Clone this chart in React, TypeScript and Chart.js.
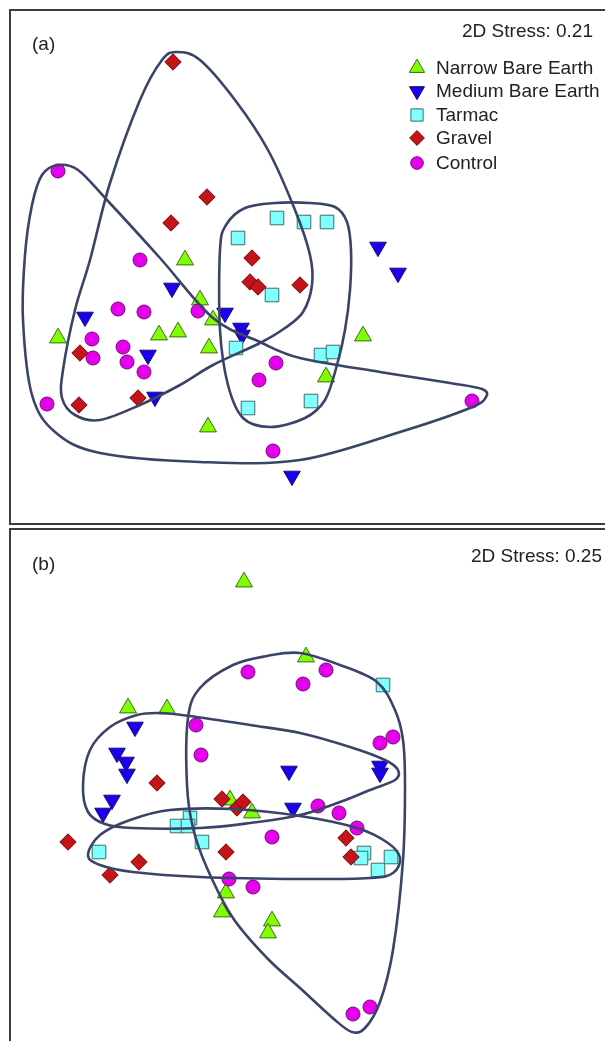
import React, { useEffect, useRef } from 'react';
import { Chart, registerables } from 'chart.js';
import { drawPoint } from 'chart.js/helpers';

Chart.register(...registerables);

// ---------- categories ----------
const groupNames = ['Narrow Bare Earth', 'Medium Bare Earth', 'Tarmac', 'Gravel', 'Control'];
const stressA = '2D Stress: 0.21';
const stressB = '2D Stress: 0.25';

// ---------- panel (a) NMDS scores [x, y] ----------
const narrowA = [[-1.15, 0.02], [-1.0, -0.38], [-0.87, -0.58], [-2.42, -0.76], [-1.41, -0.73], [-1.22, -0.7], [-0.91, -0.86], [-0.92, -1.65], [0.63, -0.74], [0.26, -1.15]];
const mediumA = [[0.78, 0.15], [0.98, -0.11], [-1.28, -0.26], [-0.75, -0.51], [-0.59, -0.66], [-0.58, -0.73], [-2.15, -0.55], [-1.52, -0.93], [-1.45, -1.35], [-0.08, -2.14]];
const tarmacA = [[-0.23, 0.44], [0.04, 0.4], [0.27, 0.4], [-0.62, 0.24], [-0.28, -0.33], [-0.64, -0.86], [-0.52, -1.46], [0.21, -0.93], [0.33, -0.9], [0.11, -1.39]];
const gravelA = [[-1.27, 2.0], [-0.93, 0.65], [-1.29, 0.39], [-0.48, 0.04], [-0.5, -0.2], [-0.42, -0.25], [0.0, -0.23], [-2.2, -0.91], [-2.21, -1.43], [-1.62, -1.36]];
const controlA = [[-2.42, 0.91], [-1.6, 0.02], [-1.02, -0.49], [-1.82, -0.47], [-1.56, -0.5], [-2.08, -0.77], [-2.07, -0.96], [-1.77, -0.85], [-1.73, -1.0], [-1.56, -1.1], [-0.24, -1.01], [-0.41, -1.18], [-2.53, -1.42], [-0.27, -1.89], [1.72, -1.39]];

// group outlines, panel (a)
const hullGravelA = [[-1.23, 2.1], [-1.0, 2.02], [-0.65, 1.62], [-0.32, 1.12], [-0.05, 0.52], [0.1, 0.07], [0.12, -0.23], [0.03, -0.5], [-0.15, -0.66], [-0.4, -0.81], [-0.87, -1.03], [-1.2, -1.23], [-1.6, -1.43], [-2.0, -1.58], [-2.25, -1.53], [-2.38, -1.36], [-2.37, -1.08], [-2.25, -0.48], [-2.1, 0.02], [-1.9, 0.79], [-1.6, 1.62], [-1.38, 2.02]];
const hullTarmacA = [[-0.8, 0.12], [-0.74, 0.37], [-0.55, 0.54], [-0.25, 0.59], [0.1, 0.59], [0.35, 0.55], [0.47, 0.4], [0.51, 0.12], [0.5, -0.28], [0.45, -0.68], [0.37, -1.03], [0.25, -1.38], [0.05, -1.56], [-0.3, -1.65], [-0.57, -1.56], [-0.72, -1.23], [-0.8, -0.68]];
const hullControlA = [[-2.42, 0.97], [-2.22, 0.92], [-1.93, 0.62], [-1.4, 0.04], [-0.87, -0.56], [-0.4, -0.8], [0.0, -0.96], [0.8, -1.1], [1.5, -1.21], [1.82, -1.27], [1.86, -1.35], [1.7, -1.46], [1.0, -1.7], [0.0, -1.98], [-1.0, -2.0], [-2.0, -1.91], [-2.45, -1.7], [-2.68, -1.33], [-2.77, -0.58], [-2.75, 0.07], [-2.68, 0.57], [-2.58, 0.87]];

// ---------- panel (b) NMDS scores [x, y] ----------
const narrowB = [[-0.56, 2.02], [-1.72, 0.76], [-1.33, 0.75], [0.06, 1.27], [-0.7, -0.16], [-0.48, -0.29], [-0.74, -1.09], [-0.78, -1.28], [-0.28, -1.37], [-0.32, -1.49]];
const mediumB = [[-1.65, 0.57], [-1.83, 0.31], [-1.74, 0.22], [-1.73, 0.1], [-0.11, 0.13], [0.8, 0.18], [0.8, 0.11], [-1.88, -0.16], [-1.97, -0.29], [-0.07, -0.24]];
const tarmacB = [[0.83, 0.99], [-1.23, -0.42], [-1.1, -0.34], [-1.12, -0.42], [-0.98, -0.58], [-2.01, -0.68], [0.64, -0.69], [0.61, -0.74], [0.91, -0.73], [0.78, -0.86]];
const gravelB = [[-1.43, 0.01], [-2.32, -0.58], [-1.61, -0.78], [-1.9, -0.91], [-0.78, -0.15], [-0.63, -0.24], [-0.57, -0.18], [-0.74, -0.68], [0.46, -0.54], [0.51, -0.73]];
const controlB = [[-0.52, 1.12], [0.03, 1.0], [0.26, 1.14], [-1.04, 0.59], [-0.99, 0.29], [0.8, 0.41], [0.93, 0.47], [-0.28, -0.53], [-0.71, -0.95], [-0.47, -1.03], [0.18, -0.22], [0.39, -0.29], [0.57, -0.44], [0.53, -2.3], [0.7, -2.23]];

// group outlines, panel (b)
const hullControlB = [[0.0, 1.31], [0.4, 1.19], [0.77, 1.02], [0.95, 0.74], [1.03, 0.44], [1.05, -0.01], [1.03, -0.76], [0.93, -1.66], [0.8, -2.18], [0.65, -2.44], [0.52, -2.48], [0.35, -2.36], [0.0, -2.04], [-0.33, -1.74], [-0.67, -1.34], [-0.93, -0.84], [-1.07, -0.44], [-1.13, -0.01], [-1.12, 0.66], [-1.0, 0.96], [-0.67, 1.19], [-0.33, 1.28]];
const hullMediumB = [[-1.9, 0.57], [-1.63, 0.69], [-1.4, 0.71], [-1.1, 0.68], [-0.5, 0.59], [0.0, 0.51], [0.5, 0.37], [0.85, 0.24], [0.98, 0.14], [0.95, 0.04], [0.7, -0.06], [0.4, -0.18], [0.0, -0.31], [-0.5, -0.39], [-1.0, -0.44], [-1.67, -0.44], [-1.95, -0.4], [-2.12, -0.28], [-2.17, -0.01], [-2.1, 0.34]];
const hullTarmacB = [[-2.12, -0.71], [-2.0, -0.51], [-1.7, -0.36], [-1.3, -0.26], [-0.67, -0.25], [0.0, -0.32], [0.57, -0.44], [0.88, -0.59], [1.0, -0.74], [0.93, -0.89], [0.7, -0.94], [0.0, -0.95], [-1.0, -0.93], [-1.67, -0.88], [-2.0, -0.81]];

// ---------- styles ----------
const FONT = '"Liberation Sans", Arial, sans-serif';
const HULL_COLOR = '#3a4468';
const groupStyles = [
  { pointStyle: 'triangle', radius: 9.8, rotation: 0, bg: '#80ff00', border: '#3d6b14' },
  { pointStyle: 'triangle', radius: 9.6, rotation: 180, bg: '#1a00ee', border: '#14106e' },
  { pointStyle: 'rect', radius: 9.6, rotation: 0, bg: '#80ffff', border: '#3f6c6c' },
  { pointStyle: 'rectRot', radius: 8.2, rotation: 0, bg: '#c4141a', border: '#6a0c0c' },
  { pointStyle: 'circle', radius: 7, rotation: 0, bg: '#e600ee', border: '#6c0a78' },
];

type Pt = { x: number; y: number };
const toPts = (a: number[][]): Pt[] => a.map(([x, y]) => ({ x, y }));

function closedSpline(ctx: CanvasRenderingContext2D, p: Pt[]) {
  const n = p.length;
  ctx.beginPath();
  ctx.moveTo(p[0].x, p[0].y);
  for (let i = 0; i < n; i++) {
    const p0 = p[(i - 1 + n) % n], p1 = p[i], p2 = p[(i + 1) % n], p3 = p[(i + 2) % n];
    ctx.bezierCurveTo(
      p1.x + (p2.x - p0.x) / 6, p1.y + (p2.y - p0.y) / 6,
      p2.x - (p3.x - p1.x) / 6, p2.y - (p3.y - p1.y) / 6,
      p2.x, p2.y
    );
  }
  ctx.closePath();
  ctx.stroke();
}

type PanelCfg = {
  label: string;
  stress: string;
  stressRight: number;
  stressY: number;
  labelY: number;
  groups: number[][][];
  hulls: number[][][];
  legend: boolean;
  yMin: number;
  yMax: number;
};

function makeDecor(cfg: PanelCfg) {
  return {
    id: 'panelDecor',
    afterDatasetsDraw(chart: any) {
      const { ctx } = chart;
      const xs = chart.scales.x, ys = chart.scales.y;
      ctx.save();
      ctx.strokeStyle = HULL_COLOR;
      ctx.lineWidth = 2.6;
      ctx.lineJoin = 'round';
      for (const h of cfg.hulls) {
        const px = h.map(([x, y]) => ({ x: xs.getPixelForValue(x), y: ys.getPixelForValue(y) }));
        closedSpline(ctx, px);
      }
      ctx.restore();
    },
    afterDraw(chart: any) {
      const { ctx } = chart;
      ctx.save();
      ctx.fillStyle = '#222';
      ctx.font = `19px ${FONT}`;
      ctx.textBaseline = 'middle';
      ctx.textAlign = 'left';
      ctx.fillText(cfg.label, 32, cfg.labelY);
      ctx.textAlign = 'right';
      ctx.fillText(cfg.stress, cfg.stressRight, cfg.stressY);
      if (cfg.legend) {
        const rows = [68, 91, 115, 138, 163];
        groupNames.forEach((name, i) => {
          const s = groupStyles[i];
          ctx.fillStyle = s.bg;
          ctx.strokeStyle = s.border;
          ctx.lineWidth = 1;
          drawPoint(ctx, { pointStyle: s.pointStyle as any, radius: s.radius * 0.9, rotation: s.rotation, borderWidth: 1 }, 417, rows[i]);
          ctx.fillStyle = '#222';
          ctx.textAlign = 'left';
          ctx.fillText(name, 436, rows[i] + 1);
        });
      }
      ctx.restore();
    },
  };
}

function Panel({ cfg, top, height }: { cfg: PanelCfg; top: number; height: number }) {
  const ref = useRef<HTMLCanvasElement | null>(null);
  useEffect(() => {
    if (!ref.current) return;
    const datasets = cfg.groups.map((g, i) => {
      const s = groupStyles[i];
      return {
        label: groupNames[i],
        data: toPts(g),
        pointStyle: s.pointStyle,
        pointRadius: s.radius,
        pointRotation: s.rotation,
        pointBackgroundColor: s.bg,
        pointBorderColor: s.border,
        pointBorderWidth: 1,
        showLine: false,
        order: 5 - i,
      };
    });
    const chart = new Chart(ref.current, {
      type: 'scatter',
      data: { datasets: datasets as any },
      options: {
        animation: false,
        responsive: false,
        events: [],
        layout: { padding: 0, autoPadding: false } as any,
        scales: {
          x: { type: 'linear', min: -3.0, max: 3.05, display: false },
          y: { type: 'linear', min: cfg.yMin, max: cfg.yMax, display: false },
        },
        plugins: { legend: { display: false }, tooltip: { enabled: false } },
      },
      plugins: [makeDecor(cfg)],
    });
    return () => chart.destroy();
  }, []);
  return (
    <canvas
      ref={ref}
      width={605}
      height={height}
      style={{ position: 'absolute', left: 0, top, width: 605, height }}
    />
  );
}

const cfgA: PanelCfg = {
  label: '(a)', stress: stressA, stressRight: 593, stressY: 32, labelY: 45,
  groups: [narrowA, mediumA, tarmacA, gravelA, controlA],
  hulls: [hullGravelA, hullTarmacA, hullControlA],
  legend: true, yMin: -2.63, yMax: 2.62,
};
const cfgB: PanelCfg = {
  label: '(b)', stress: stressB, stressRight: 602, stressY: 30, labelY: 38,
  groups: [narrowB, mediumB, tarmacB, gravelB, controlB],
  hulls: [hullControlB, hullMediumB, hullTarmacB],
  legend: false, yMin: -2.57, yMax: 2.57,
};

export default function App() {
  return (
    <div style={{ position: 'absolute', left: 0, top: 0, width: 605, height: 1041, overflow: 'hidden', background: '#fff' }}>
      <div style={{ position: 'absolute', left: 9, top: 9, width: 700, height: 516, border: '2px solid #3c3c3c', boxSizing: 'border-box' }} />
      <div style={{ position: 'absolute', left: 9, top: 528, width: 700, height: 600, border: '2px solid #3c3c3c', boxSizing: 'border-box' }} />
      <Panel cfg={cfgA} top={0} height={525} />
      <Panel cfg={cfgB} top={527} height={514} />
    </div>
  );
}
